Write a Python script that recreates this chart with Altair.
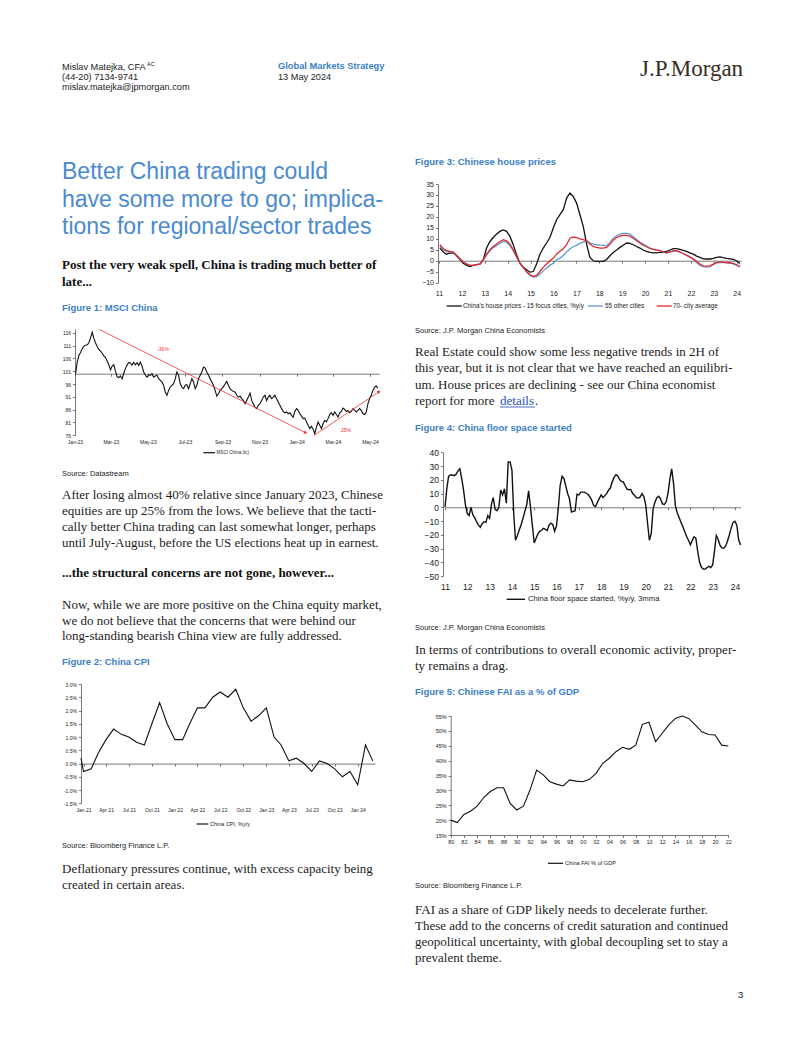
import altair as alt
import pandas as pd

# ------------------------------------------------------------------ data
msci_part1 = [100, 104.6, 107.2, 108.3, 109.8, 110.8, 111.1, 111.3, 112.1, 114.0,
              116.2, 113.8, 112.0, 110.6, 109.5, 108.8, 108.0, 107.0, 106.3, 105.0,
              103.5, 101.5, 103.0, 103.5, 101.0, 98.8, 98.5, 99.2, 98.0, 100.2,
              102.0, 103.4, 104.4, 104.2, 103.4, 104.5, 103.5, 104.3, 103.3, 104.6,
              103.0, 100.7, 99.4, 98.7, 99.6, 99.4, 100.0, 98.7, 99.1, 99.4,
              98.1, 97.4, 96.8, 95.5, 92.9, 91.6, 93.5, 94.8, 95.5, 96.1,
              98.1, 100.7, 99.4, 96.1, 94.8, 94.2, 95.5, 95.7, 94.2, 96.1,
              98.1, 96.8, 94.2, 95.5, 98.1, 99.4, 100.7, 102.6, 102.2, 100.7,
              99.4, 98.1, 96.8, 95.5, 93.5, 91.3, 92.2, 93.5, 94.2]
msci_part2 = [95.0, 96.0, 97.0, 95.5, 94.2, 93.5, 93.1, 92.9, 91.6, 90.9,
              91.3, 90.3, 89.6, 88.3, 89.6, 90.9, 92.5, 89.6, 88.3, 87.0,
              86.4, 87.7, 88.3, 89.6, 90.9, 91.6, 89.6, 90.9, 91.6, 90.3,
              90.9, 91.6, 90.3, 89.0, 87.7, 86.4, 85.3, 84.8, 85.1, 84.4,
              84.8, 83.8, 83.1, 85.3, 86.4, 85.7, 84.4, 83.5, 82.5, 82.7,
              81.2, 79.9, 78.6, 79.5, 78.4, 76.6, 79.2, 81.2, 79.9, 78.6,
              80.6, 81.8, 81.2, 82.5, 84.1, 84.8, 83.8, 85.1, 84.1, 83.1,
              84.8, 85.3, 86.6, 86.1, 85.3, 85.7, 84.8, 85.3, 86.4, 85.7,
              85.1, 85.7, 86.4, 85.7, 84.4, 84.1, 85.1, 88.3, 90.3, 91.6,
              93.5, 94.8, 95.2, 94.4]
msci_vals = msci_part1 + msci_part2
msci_ticks = [76, 81, 86, 91, 96, 101, 106, 111, 116]
arrow_start_dates = ["2023-02-10", "2024-01-30"]
arrow_start_vals = [117.3, 76.0]
arrow_end_dates = ["2024-01-16", "2024-05-16"]
arrow_end_vals = [77.0, 93.0]

cpi_vals = [0.2, -0.3, -0.2, 0.4, 0.9, 1.3, 1.1, 1.0, 0.8, 0.7, 1.5, 2.3, 1.5,
            0.9, 0.9, 1.5, 2.1, 2.1, 2.5, 2.7, 2.5, 2.8, 2.1, 1.6, 1.8,
            2.1, 1.0, 0.7, 0.1, 0.2, 0.0, -0.3, 0.1, 0.0, -0.2, -0.5, -0.3,
            -0.8, 0.7, 0.1]
cpi_ticks = [-1.5, -1.0, -0.5, 0.0, 0.5, 1.0, 1.5, 2.0, 2.5, 3.0]

house_15 = [5.8, 4.0, 3.0, 3.6, 3.5, 2.4, 0.5, -1.1, -2.1, -2.6, -2.1, -1.8, -1.5, 0.5,
            5.8, 8.8, 10.6, 12.2, 13.4, 14.1, 13.4, 11.1, 7.3, 2.7, -1.1, -3.0, -4.1,
            -5.2, -4.9, -1.5, 3.0, 5.8, 8.1, 10.6, 14.9, 18.7, 21.0, 23.3, 28.6, 30.9,
            29.3, 26.3, 21.0, 15.7,
            7.6, 1.5, 0.0, -0.3, -0.3, -0.3, 0.6, 2.3, 3.8, 4.9, 6.1, 7.1, 8.1, 7.9,
            7.3, 6.5, 5.8, 4.9, 4.3, 3.8, 3.6, 3.6, 3.8, 4.0, 4.3, 4.9, 5.5, 5.5, 5.2,
            4.7, 4.3, 3.6, 3.0, 2.1, 1.5, 0.9, 0.8, 0.8, 1.1, 1.5, 1.8, 1.4, 1.1, 0.9,
            0.6, 0.0, -1.2]
house_55 = [6.5, 5.0, 4.3, 4.0, 3.8, 2.4, 0.9, -0.6, -1.5, -2.1, -2.1, -1.8, -1.5, 0.3,
            2.6, 4.5, 6.0, 7.0, 7.9, 8.8, 8.4, 7.0, 4.6, 1.6, -1.3, -3.2, -5.2, -6.7,
            -7.4, -7.2, -6.1, -4.6, -3.3, -2.1, -1.1, 0.5, 1.2, 2.4, 4.0, 5.5, 6.4,
            7.0, 7.9, 8.5,
            9.1, 8.2, 7.6, 7.3, 7.1, 7.0, 6.8, 8.4, 10.3, 11.4, 12.2, 12.5, 12.5, 12.2,
            10.9, 9.7, 8.5, 7.6, 6.7, 5.8, 5.3, 5.0, 4.6, 4.0, 3.6, 4.0, 4.4, 4.4, 3.8,
            3.2, 2.4, 1.5, 0.6, -0.8, -2.1, -2.7, -2.9, -2.7, -1.8, -0.9, -0.8, -0.8,
            -0.9, -1.1, -1.4, -2.0, -2.7]
house_70 = [7.3, 5.5, 4.6, 4.3, 4.0, 2.4, 0.9, -0.6, -1.5, -2.1, -2.1, -1.8, -1.5, 0.5,
            3.0, 5.0, 6.5, 7.6, 8.8, 9.6, 9.1, 7.6, 5.0, 2.0, -1.1, -3.0, -4.9, -6.4,
            -7.1, -6.7, -4.9, -3.0, -1.5, 0.0, 1.2, 3.0, 4.3, 5.5, 7.3, 10.3, 10.9,
            10.6, 10.0, 9.6,
            9.1, 7.6, 6.5, 6.1, 5.8, 5.8, 6.1, 7.6, 9.4, 10.6, 11.2, 11.6, 11.6, 11.2,
            10.3, 9.1, 8.1, 7.1, 6.4, 5.6, 5.2, 4.9, 4.6, 4.0, 3.6, 4.0, 4.6, 4.6, 4.0,
            3.3, 2.6, 1.8, 0.9, -0.3, -1.5, -2.3, -2.4, -2.3, -1.5, -0.8, -0.6, -0.6,
            -0.8, -0.9, -1.2, -1.8, -2.7]
house_ticks = [-10, -5, 0, 5, 10, 15, 20, 25, 30, 35]

floor_vals = [0, 14, 22.5, 23.5, 23.5, 23, 24, 26.5, 28, 21,
              12.5, 2, -4.6, -6, 0, -5.5, -7.5, -10.5, -13, -14.5,
              -12, -10.5, -11, -6, -8, 2.5, 7, -1.5, -2.5, 0,
              12.5, 9, 13.5, 3, 33, 33, 27, -6, -24, -20.5,
              -16.5, -12.5, -8, -3, 2, 12, 0, -13, -26, -22.5,
              -19.5, -17.5, -16.7, -15.3, -16, -17, -13, -11.5, -12.5, -17.5,
              -13.5, 0, 16, 22.5, 21, 15.5, 10, 6, -3.5, -3,
              -2.5, 9.5, 9, 11, 11, 11, 10.2, 9.3, 7.5, 5,
              1.2, 0.5, 3.7, 6.3, 9, 7, 8.5, 9.9, 12.4, 14,
              18.5, 21.7, 23.7, 22.8, 20, 18.9, 18.3, 15.5, 13.2, 12.8,
              13, 10, 8.7, 7, 6.8, 7.4, 9.9, 7.8, 1.8, -12,
              -24, -19, -1, 3.8, 6.9, 8, 6, 2.5, 2, 4,
              10.5, 21, 28, 17, 1, -4.2, -7.5, -11, -14.2, -17.8,
              -21.3, -24, -27.2, -24.2, -21.5, -22.5, -32, -40, -43.7, -45,
              -45, -43.8, -43, -43.8, -42, -31.5, -20.5, -23.5, -27.5, -29.6,
              -29.8, -28.3, -24.5, -20.2, -15, -11, -10.2, -13, -23.5, -27.5]
floor_ticks = [-50, -40, -30, -20, -10, 0, 10, 20, 30, 40]

fai_years = list(range(1980, 2023))
fai_vals = [20.0, 19.2, 21.9, 23.0, 24.7, 27.6, 29.6, 30.9, 30.9, 25.6,
            23.4, 24.7, 30.1, 36.8, 35.2, 32.9, 32.1, 31.5, 33.5, 33.1,
            32.9, 33.7, 35.7, 39.1, 40.8, 43.0, 44.5, 43.8, 45.2, 52.2,
            52.9, 46.4, 49.2, 52.0, 54.2, 55.0, 54.2, 52.0, 49.7, 48.8,
            48.6, 45.2, 44.9]
fai_xticks = list(range(1980, 2023, 2))
fai_yticks = [15, 20, 25, 30, 35, 40, 45, 50, 55]

# ------------------------------------------------------------------ helpers
W, H = 786, 1021
SANS = "Liberation Sans"
SERIF = "Liberation Serif"
BLUE = "#3d80c6"
INK = "#1c1c1c"
RED = "#e8372f"
LBLUE = "#5f9bd3"
ONE = alt.Data(values=[{"k": 1}])


def px(x):
    return x - 8


def py(y):
    return y - 8


def label(text, x, y, size, font=SANS, color=INK, weight="normal", align="left"):
    return alt.Chart(ONE).mark_text(
        text=text, font=font, fontSize=size, color=color, fontWeight=weight,
        align=align, baseline="middle"
    ).encode(x=alt.value(px(x)), y=alt.value(py(y)))


def lines(texts, x, y0, step, size, **kw):
    return [label(t, x, y0 + i * step, size, **kw) for i, t in enumerate(texts)]


def hline(x1, x2, y, color, width):
    return alt.Chart(ONE).mark_rule(color=color, strokeWidth=width).encode(
        x=alt.value(px(x1)), x2=alt.value(px(x2)), y=alt.value(py(y)))


def axis_x(line_y, pad, size, **kw):
    return alt.Axis(orient="bottom", offset=-(H - py(line_y)), title=None, grid=False,
                    labelFont=SANS, labelFontSize=size, labelColor=INK, labelPadding=pad,
                    labelFlush=False, labelOverlap=False, domainColor="#555",
                    tickColor="#555", tickSize=2.5, domainWidth=0.8, tickWidth=0.8, **kw)


def axis_y(line_x, size, **kw):
    return alt.Axis(orient="left", offset=-px(line_x), title=None, grid=False,
                    labelFont=SANS, labelFontSize=size, labelColor=INK, labelPadding=2,
                    labelFlush=False, labelOverlap=False, domainColor="#555",
                    tickColor="#555", tickSize=2.5, domainWidth=0.8, tickWidth=0.8, **kw)


def dt(y, m, d):
    return alt.DateTime(year=y, month=m, date=d)


# ------------------------------------------------------------------ figure 1
msci_df = pd.DataFrame({"date": pd.date_range("2023-01-02", "2024-05-14", periods=len(msci_vals)),
                        "value": msci_vals})
arrow_df = pd.DataFrame({"d1": arrow_start_dates, "v1": arrow_start_vals,
                         "d2": arrow_end_dates, "v2": arrow_end_vals})
s1x = alt.Scale(domain=[dt(2023, 1, 1), dt(2024, 5, 16)], range=[px(75), px(379.1)])
s1y = alt.Scale(domain=[76, 117.5], range=[py(435.3), py(328.9)])
a1x = axis_x(373.7, 62.8, 5, format="%b-%y", tickCount={"interval": "month", "step": 2})
a1y = axis_y(75, 5, values=msci_ticks)

f1_line = alt.Chart(msci_df).mark_line(color="#111", strokeWidth=1.1).encode(
    x=alt.X("date:T", scale=s1x, axis=a1x), y=alt.Y("value:Q", scale=s1y, axis=a1y))
f1_arrow = alt.Chart(arrow_df).mark_rule(color=RED, strokeWidth=0.8).encode(
    x=alt.X("d1:T", scale=s1x, axis=a1x), y=alt.Y("v1:Q", scale=s1y, axis=a1y),
    x2="d2:T", y2="v2:Q")
f1_head1 = alt.Chart(arrow_df.iloc[[0]]).mark_point(
    shape="triangle-right", filled=True, color=RED, size=14, angle=27, opacity=1).encode(
    x=alt.X("d2:T", scale=s1x, axis=a1x), y=alt.Y("v2:Q", scale=s1y, axis=a1y))
f1_head2 = alt.Chart(arrow_df.iloc[[1]]).mark_point(
    shape="triangle-right", filled=True, color=RED, size=14, angle=326, opacity=1).encode(
    x=alt.X("d2:T", scale=s1x, axis=a1x), y=alt.Y("v2:Q", scale=s1y, axis=a1y))
fig1 = alt.layer(
    f1_line, f1_arrow, f1_head1, f1_head2,
    label("-36%", 163, 349, 5, color=RED, align="center"),
    label("25%", 346, 430, 5, color=RED, align="center"),
    hline(203.3, 215, 452.7, "#111", 1.2),
    label("MSCI China (lc)", 216.5, 452.7, 4.6),
)

# ------------------------------------------------------------------ figure 2
cpi_df = pd.DataFrame({"date": pd.date_range("2020-12-01", periods=len(cpi_vals), freq="MS"),
                       "value": cpi_vals})
s2x = alt.Scale(domain=[dt(2020, 12, 22), dt(2024, 3, 10)], range=[px(81), px(375)], clamp=True)
s2y = alt.Scale(domain=[-1.5, 3.0], range=[py(803.3), py(684)])
a2x = axis_x(763.6, 41.4, 5, format="%b %y", tickCount={"interval": "month", "step": 3})
a2y = axis_y(81, 5, values=cpi_ticks,
             labelExpr="(datum.value < 0 ? '-' : '') + format(abs(datum.value), '.1f') + '%'")
fig2 = alt.layer(
    alt.Chart(cpi_df).mark_line(color="#111", strokeWidth=1.1).encode(
        x=alt.X("date:T", scale=s2x, axis=a2x), y=alt.Y("value:Q", scale=s2y, axis=a2y)),
    hline(196.7, 208.3, 824, "#111", 1.2),
    label("China CPI, %y/y", 210, 824, 5.5),
)

# ------------------------------------------------------------------ figure 3
house_df = pd.DataFrame({"date": pd.date_range("2011-01-16", "2024-02-22", periods=len(house_15)),
                         "c15": house_15, "c55": house_55, "c70": house_70})
s3x = alt.Scale(domain=[dt(2011, 1, 1), dt(2024, 3, 15)], range=[px(439), px(741.3)])
s3y = alt.Scale(domain=[-10, 35], range=[py(282.7), py(184)])
a3x = axis_x(260.7, 26.3, 7, format="%y", tickCount={"interval": "year", "step": 1})
a3y = axis_y(438, 7, values=house_ticks)


def house_line(col, color):
    return alt.Chart(house_df).mark_line(color=color, strokeWidth=1.3).encode(
        x=alt.X("date:T", scale=s3x, axis=a3x), y=alt.Y(f"{col}:Q", scale=s3y, axis=a3y))


fig3 = alt.layer(
    house_line("c15", "#111"), house_line("c55", LBLUE), house_line("c70", "#e3262b"),
    hline(446.7, 461.7, 306, "#111", 1.3),
    label("China's house prices - 15 focus cities, %y/y", 463, 306, 6.3),
    hline(588, 603, 306, LBLUE, 1.3),
    label("55 other cities", 605, 306, 6.3),
    hline(656.7, 671.7, 306, "#e3262b", 1.3),
    label("70- city average", 673, 306, 6.3),
)

# ------------------------------------------------------------------ figure 4
floor_df = pd.DataFrame({"date": pd.date_range("2011-01-01", periods=len(floor_vals), freq="MS"),
                         "value": floor_vals})
s4x = alt.Scale(domain=[dt(2011, 1, 1), dt(2024, 4, 1)], range=[px(445), px(740.5)])
s4y = alt.Scale(domain=[-50, 40], range=[py(576), py(452.3)])
a4x = axis_x(507.3, 72.7, 8.5, format="%y", tickCount={"interval": "year", "step": 1})
a4y = axis_y(443, 8.5, values=floor_ticks)
fig4 = alt.layer(
    alt.Chart(floor_df).mark_line(color="#111", strokeWidth=1.4).encode(
        x=alt.X("date:T", scale=s4x, axis=a4x), y=alt.Y("value:Q", scale=s4y, axis=a4y)),
    hline(506.7, 525, 599.3, "#111", 1.4),
    label("China floor space started, %y/y, 3mma", 528, 599.3, 7.7),
)

# ------------------------------------------------------------------ figure 5
fai_df = pd.DataFrame({"year": fai_years, "value": fai_vals})
s5x = alt.Scale(domain=[1980, 2022], range=[px(450.7), px(728.3)])
s5y = alt.Scale(domain=[15, 55], range=[py(835), py(716)])
a5x = axis_x(835, 2, 5.5, values=fai_xticks,
             labelExpr="(datum.value % 100 < 10 ? '0' : '') + (datum.value % 100)")
a5y = axis_y(450.7, 5.5, values=fai_yticks, labelExpr="datum.value + '%'")
fig5 = alt.layer(
    alt.Chart(fai_df).mark_line(color="#111", strokeWidth=1.1).encode(
        x=alt.X("year:Q", scale=s5x, axis=a5x), y=alt.Y("value:Q", scale=s5y, axis=a5y)),
    hline(548, 563, 863.3, "#111", 1.2),
    label("China FAI % of GDP", 565, 863.3, 5.6),
)

# ------------------------------------------------------------------ page text
page = []
page += [label("Mislav Matejka, CFA", 62, 67, 9.2), label("AC", 147, 63.5, 5.5),
         label("(44-20) 7134-9741", 62, 77, 9.2), label("mislav.matejka@jpmorgan.com", 62, 87, 9.2),
         label("Global Markets Strategy", 278, 66, 9.3, color=BLUE, weight="bold"),
         label("13 May 2024", 278, 77, 9.2),
         label("J.P.Morgan", 640, 69, 23, font=SERIF, color="#3a2c24")]
page += lines(["Better China trading could", "have some more to go; implica-",
               "tions for regional/sector trades"], 62, 172, 27.5, 23, color="#4a8ad0")
page += lines(["Post the very weak spell, China is trading much better of", "late..."],
              62, 265, 17, 13, font=SERIF, weight="bold", color="#111")
page += [label("Figure 1: MSCI China", 62, 308, 9.5, color=BLUE, weight="bold"),
         label("Source: Datastream", 62, 474, 7.5)]
page += lines(["After losing almost 40% relative since January 2023, Chinese",
               "equities are up 25% from the lows. We believe that the tacti-",
               "cally better China trading can last somewhat longer, perhaps",
               "until July-August, before the US elections heat up in earnest."],
              62, 495, 16, 13, font=SERIF)
page += [label("...the structural concerns are not gone, however...", 62, 573, 13,
               font=SERIF, weight="bold", color="#111")]
page += lines(["Now, while we are more positive on the China equity market,",
               "we do not believe that the concerns that were behind our",
               "long-standing bearish China view are fully addressed."],
              62, 605, 15.7, 13, font=SERIF)
page += [label("Figure 2: China CPI", 62, 662, 9.5, color=BLUE, weight="bold"),
         label("Source: Bloomberg Finance L.P.", 62, 846, 7.5)]
page += lines(["Deflationary pressures continue, with excess capacity being",
               "created in certain areas."], 62, 869, 16, 13, font=SERIF)

page += [label("Figure 3: Chinese house prices", 415, 162, 9.5, color=BLUE, weight="bold"),
         label("Source: J.P. Morgan China Economists", 415, 331, 7.5)]
page += lines(["Real Estate could show some less negative trends in 2H of",
               "this year, but it is not clear that we have reached an equilibri-",
               "um. House prices are declining - see our China economist",
               "report for more"], 415, 352, 16.3, 13, font=SERIF)
page += [label("details", 500, 401, 13, font=SERIF, color="#1f4fbf"),
         label(".", 535, 401, 13, font=SERIF),
         hline(500, 535, 407, "#1f4fbf", 0.8)]
page += [label("Figure 4: China floor space started", 415, 428, 9.5, color=BLUE, weight="bold"),
         label("Source: J.P. Morgan China Economists", 415, 628, 7.5)]
page += lines(["In terms of contributions to overall economic activity, proper-",
               "ty remains a drag."], 415, 650, 16, 13, font=SERIF)
page += [label("Figure 5: Chinese FAI as a % of GDP", 415, 692, 9.5, color=BLUE, weight="bold"),
         label("Source: Bloomberg Finance L.P.", 415, 886, 7.5)]
page += lines(["FAI as a share of GDP likely needs to decelerate further.",
               "These add to the concerns of credit saturation and continued",
               "geopolitical uncertainty, with global decoupling set to stay a",
               "prevalent theme."], 415, 910, 16, 13, font=SERIF)
page += [label("3", 738, 995, 9.5)]

chart = alt.layer(*page, fig1, fig2, fig3, fig4, fig5).resolve_scale(
    x="independent", y="independent"
).properties(
    width=W, height=H, padding=0, autosize=alt.AutoSizeParams(type="none")
).configure_view(stroke=None)

chart.save("out.html", embed_options={"renderer": "svg", "actions": False})
